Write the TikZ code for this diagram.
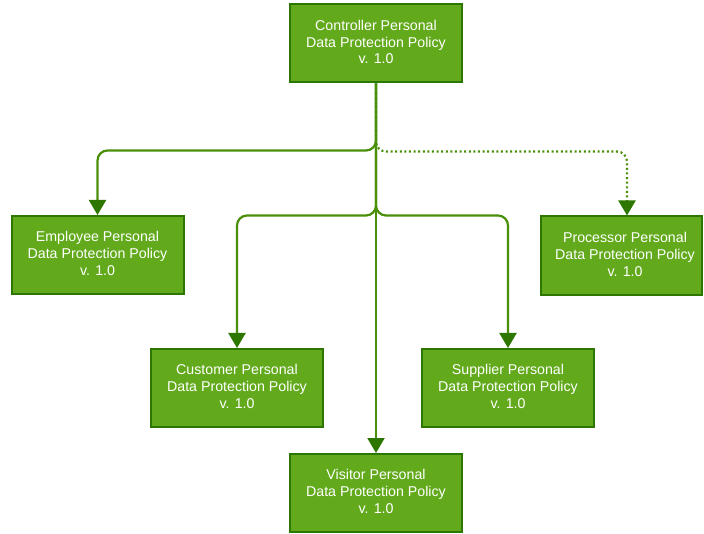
\documentclass[tikz,border=0pt]{standalone}
\usepackage{fontspec}
\setmainfont{Liberation Sans}
\usetikzlibrary{arrows.meta}
\definecolor{boxfill}{HTML}{62AA1C}
\definecolor{boxline}{HTML}{2D7600}
\definecolor{edgecol}{HTML}{4A8F0A}
\tikzset{
  policy/.style={draw=boxline, line width=2pt, fill=boxfill, text=white,
    minimum width=172pt, minimum height=78pt, align=center, inner sep=2pt,
    font=\fontsize{14.2}{16.8}\selectfont},
  edge/.style={draw=edgecol, line width=2.2pt, rounded corners=10pt,
    -{Triangle[width=17pt,length=15pt,fill=boxline,color=boxline]}},
  dotline/.style={dash pattern=on 2pt off 2.6pt}
}
\begin{document}
\begin{tikzpicture}[x=1pt,y=-1pt]
\useasboundingbox (0,0) rectangle (704,534);
\node[policy] (ctrl) at (376,43.5) {Controller Personal\\Data Protection Policy\\v. 1.0\vspace*{3pt}};
\node[policy] (emp) at (97.5,255) {Employee Personal\\Data Protection Policy\\v. 1.0\vspace*{3pt}};
\node[policy, minimum width=161pt, minimum height=79pt] (proc) at (621.5,256) {\hspace*{7pt}Processor Personal\\\hspace*{7pt}Data Protection Policy\\\hspace*{7pt}v. 1.0\vspace*{3pt}};
\node[policy] (cust) at (237,388) {Customer Personal\\Data Protection Policy\\v. 1.0\vspace*{3pt}};
\node[policy] (supp) at (508,388) {Supplier Personal\\Data Protection Policy\\v. 1.0\vspace*{3pt}};
\node[policy] (visi) at (376,493) {Visitor Personal\\Data Protection Policy\\v. 1.0\vspace*{3pt}};
\coordinate (pa) at (627,0);
\draw[edge] (ctrl.south) -- ++(0,67) -| (emp.north);
\draw[edge,dotline] (ctrl.south) -- ++(0,68) -| (proc.north -| pa);
\draw[edge] (ctrl.south) -- ++(0,132) -| (cust.north);
\draw[edge] (ctrl.south) -- ++(0,132) -| (supp.north);
\draw[edge] (ctrl.south) -- (visi.north);
\end{tikzpicture}
\end{document}
